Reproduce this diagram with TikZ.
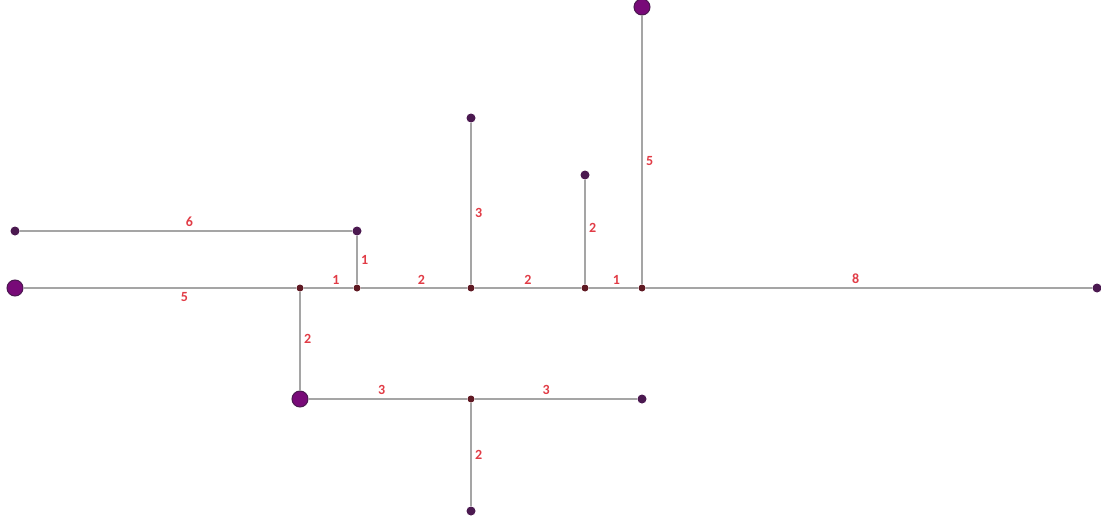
\documentclass[tikz,border=0pt]{standalone}
\usepackage{fontspec}
\setmainfont{Carlito}
\definecolor{wiregray}{RGB}{165, 165, 165}
\definecolor{hubpurple}{RGB}{120, 10, 120}
\definecolor{endpurple}{RGB}{75, 25, 80}
\definecolor{joinbrown}{RGB}{95, 25, 35}
\definecolor{weightred}{RGB}{225, 60, 70}
\usetikzlibrary{positioning}

\tikzset{
  hub/.style={circle, fill=hubpurple, draw=endpurple, line width=1pt, minimum size=16pt, inner sep=0pt},
  leaf/.style={circle, fill=endpurple, minimum size=9pt, inner sep=0pt},
  joint/.style={circle, fill=joinbrown, minimum size=7pt, inner sep=0pt},
  wire/.style={draw=wiregray, line width=2pt},
  lbl/.style={font=\fontsize{14}{14}\selectfont\bfseries, text=weightred, inner sep=3pt}
}

\begin{document}
\begin{tikzpicture}[x=1pt, y=-1pt]
  \useasboundingbox (0,0) rectangle (1101,519);

  % main line
  \node[hub] (a) at (15,288) {};
  \node[joint] (j1) at (300,288) {};
  \node[joint] (j2) at (357,288) {};
  \node[joint] (j3) at (471,288) {};
  \node[joint] (j4) at (585,288) {};
  \node[joint] (j5) at (642,288) {};
  \node[leaf] (g) at (1097,288) {};

  % branches
  \node[leaf] (b) at (15,231) {};
  \node[leaf] (c) at (357,231) {};
  \node[leaf] (d) at (471,118) {};
  \node[leaf] (e) at (585,175) {};
  \node[hub] (f) at (642,7) {};
  \node[hub] (h) at (300,399) {};
  \node[joint] (k) at (471,399) {};
  \node[leaf] (l) at (642,399) {};
  \node[leaf] (m) at (471,511) {};

  \path[wire] (a) -- node[lbl, below, pos=0.59] {5} (j1);
  \path[wire] (j1) -- node[lbl, above, pos=0.65] {1} (j2);
  \path[wire] (j2) -- node[lbl, above, pos=0.57] {2} (j3);
  \path[wire] (j3) -- node[lbl, above, pos=0.5] {2} (j4);
  \path[wire] (j4) -- node[lbl, above, pos=0.56] {1} (j5);
  \path[wire] (j5) -- node[lbl, above, pos=0.47] {8} (g);

  \path[wire] (b) -- node[lbl, above, pos=0.51] {6} (c);
  \path[wire] (c) -- node[lbl, right] {1} (j2);
  \path[wire] (j3) -- node[lbl, right, pos=0.44] {3} (d);
  \path[wire] (j4) -- node[lbl, right, pos=0.54] {2} (e);
  \path[wire] (j5) -- node[lbl, right, pos=0.46] {5} (f);
  \path[wire] (j1) -- node[lbl, right, pos=0.48] {2} (h);
  \path[wire] (h) -- node[lbl, above, pos=0.46] {3} (k);
  \path[wire] (k) -- node[lbl, above, pos=0.44] {3} (l);
  \path[wire] (k) -- node[lbl, right, pos=0.5] {2} (m);
\end{tikzpicture}
\end{document}
